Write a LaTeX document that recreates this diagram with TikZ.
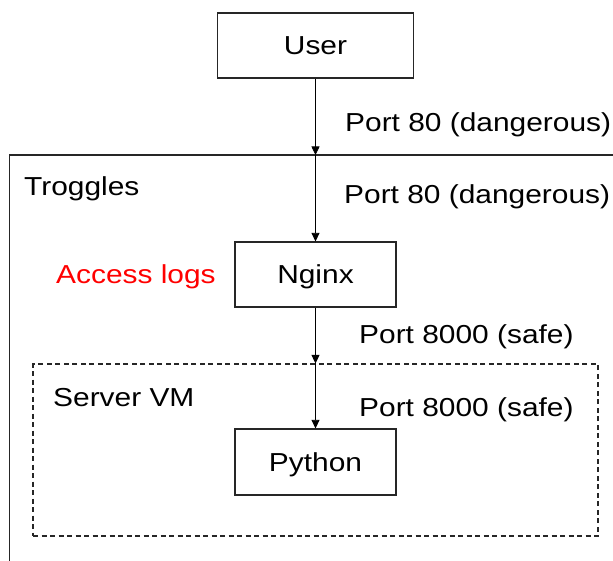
\documentclass[tikz,border=0pt]{standalone}
\usepackage{fontspec}
\setmainfont{Liberation Sans}[FakeStretch=1.15]
\usetikzlibrary{arrows.meta}
\begin{document}
\begin{tikzpicture}[x=1pt,y=-1pt,
  every node/.style={font=\fontsize{26}{30}\selectfont},
  boxnode/.style={draw=black!85, line width=1.2pt, minimum width=161pt, minimum height=65pt, inner sep=0pt, text height=18.6pt, text depth=0pt},
  vmbox/.style={draw=black!85, line width=1.1pt, dash pattern=on 5pt off 3.5pt, minimum width=565pt, minimum height=172pt, inner sep=0pt},
  lbl/.style={anchor=base west, inner sep=0pt},
  conn/.style={line width=0.8pt, -{Triangle[length=8.5pt,width=8pt]}},
  outer/.style={draw=black!85, line width=1.4pt}]
\useasboundingbox (0,0) rectangle (613,561);
% outer Troggles frame (clipped by the picture edge)
\coordinate (trTR) at (613,155);
\coordinate (trTL) at (9.5,155);
\coordinate (trBL) at (9.5,561);
\coordinate (trIn) at (315.5,155);
\draw[outer] (trTR) -- (trTL) -- (trBL);
% boxes
\node[boxnode, minimum width=196pt] (user) at (315.5,45.5) {User};
\node[boxnode] (nginx) at (315.5,274.5) {Nginx};
\node[vmbox] (vm) at (315.5,450) {};
\node[boxnode, minimum height=66pt] (python) at (315.5,462) {Python};
% labels
\node[lbl] (troggles) at (24,196) {Troggles};
\node[lbl, text=red] (access) at (56,284) {Access logs};
\node[lbl] (servervm) at (53,406) {Server VM};
\node[lbl] (p80a) at (345,132) {Port 80 (dangerous)};
\node[lbl] (p80b) at (344,204) {Port 80 (dangerous)};
\node[lbl] (p8000a) at (359,343) {Port 8000 (safe)};
\node[lbl] (p8000b) at (359,416) {Port 8000 (safe)};
% connectors
\draw[conn] (user.south) -- (trIn);
\draw[conn] (trIn) -- (nginx.north);
\draw[conn] (nginx.south) -- (vm.north);
\draw[conn] (vm.north) -- (python.north);
\end{tikzpicture}
\end{document}
